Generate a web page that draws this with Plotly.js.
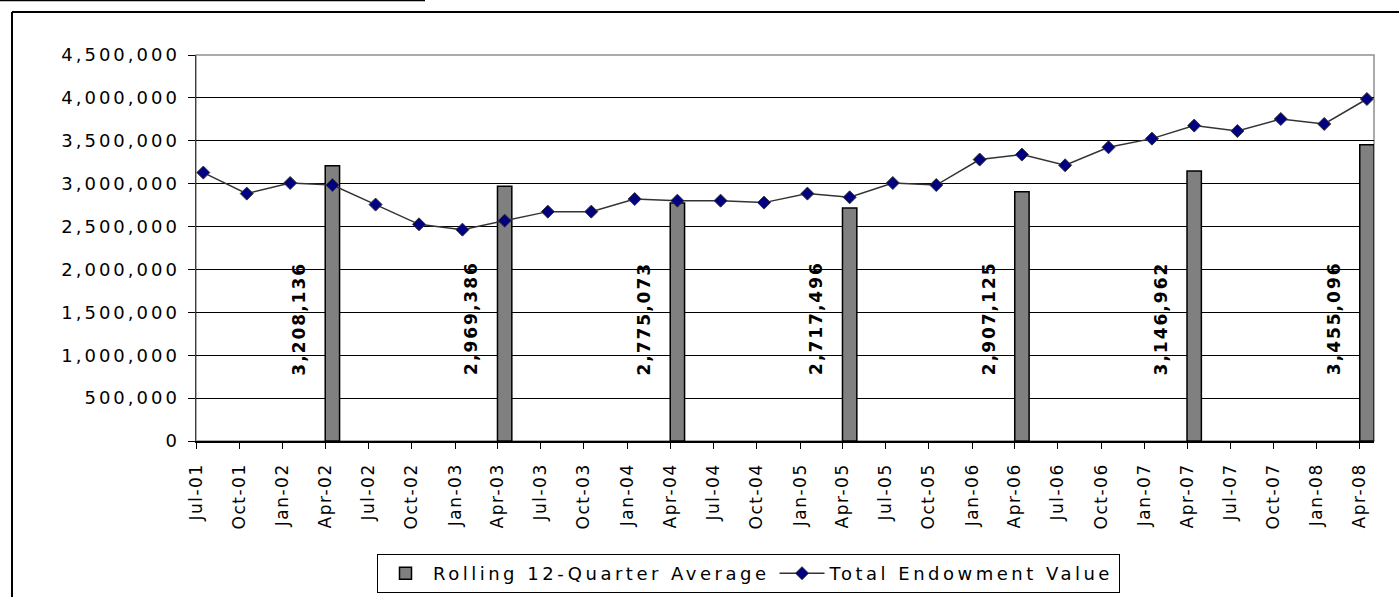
<!DOCTYPE html>
<html>
<head>
<meta charset="utf-8">
<script src="https://cdn.plot.ly/plotly-3.0.1.min.js"></script>
<style>
  html, body { margin: 0; padding: 0; background: #fff; }
  #chart { width: 1399px; height: 597px; }
  .ytick text { letter-spacing: 3px; }
  .xtick text { letter-spacing: 1.5px; }
  .legendtext { letter-spacing: 3.5px; }
  .annotation-text { letter-spacing: 2px; }
</style>
</head>
<body>
<div id="chart"></div>
<script>
// Quarter dates (first day of the month) and their tick labels
var quarterDates = ['2001-07-01','2001-10-01','2002-01-01','2002-04-01','2002-07-01','2002-10-01',
  '2003-01-01','2003-04-01','2003-07-01','2003-10-01','2004-01-01','2004-04-01','2004-07-01',
  '2004-10-01','2005-01-01','2005-04-01','2005-07-01','2005-10-01','2006-01-01','2006-04-01',
  '2006-07-01','2006-10-01','2007-01-01','2007-04-01','2007-07-01','2007-10-01','2008-01-01','2008-04-01'];
var tickLabels = ['Jul-01','Oct-01','Jan-02','Apr-02','Jul-02','Oct-02','Jan-03','Apr-03','Jul-03',
  'Oct-03','Jan-04','Apr-04','Jul-04','Oct-04','Jan-05','Apr-05','Jul-05','Oct-05','Jan-06',
  'Apr-06','Jul-06','Oct-06','Jan-07','Apr-07','Jul-07','Oct-07','Jan-08','Apr-08'];

// Total Endowment Value
var endowmentValue = [3129000,2884000,3008000,2984000,2756000,2526000,2464000,2569000,2674000,
  2674000,2821000,2802000,2802000,2779000,2884000,2841000,3008000,2984000,3281000,3339000,
  3214000,3424000,3525000,3677000,3614000,3754000,3696000,3987000];

// Rolling 12-Quarter Average (April of each year)
var avgDates = ['2002-04-01','2003-04-01','2004-04-01','2005-04-01','2006-04-01','2007-04-01','2008-04-01'];
var avgValues = [3208136,2969386,2775073,2717496,2907125,3146962,3455096];

var FONT = 'DejaVu Sans, Verdana, sans-serif';
var MONTH_MS = 30.4 * 24 * 3600 * 1000;

var barTrace = {
  type: 'bar',
  name: 'Rolling 12-Quarter Average',
  x: avgDates,
  y: avgValues,
  xperiod: 'M1',
  xperiodalignment: 'middle',
  width: MONTH_MS,
  marker: { color: '#808080', line: { color: '#000000', width: 1.5 } },
  hoverinfo: 'x+y'
};

var lineTrace = {
  type: 'scatter',
  mode: 'lines+markers',
  name: 'Total Endowment Value',
  x: quarterDates,
  y: endowmentValue,
  xperiod: 'M1',
  xperiodalignment: 'middle',
  line: { color: '#333333', width: 1.5 },
  marker: { symbol: 'diamond', size: 10, color: '#000080', line: { color: '#333333', width: 1 } }
};

function fmt(v) { return v.toString().replace(/\B(?=(\d{3})+(?!\d))/g, ','); }

var annotations = avgDates.map(function (d, i) {
  return {
    x: d, xref: 'x',
    y: 0.165, yref: 'paper',
    xanchor: 'center', yanchor: 'bottom',
    xshift: -26,
    textangle: -90,
    text: fmt(avgValues[i]),
    showarrow: false,
    font: { family: FONT, size: 17, color: '#000', weight: 'bold' }
  };
});

// plot-area pixel geometry helpers for frame decorations
var L = 196, R = 25, T = 55, B = 156, W = 1399, H = 597;
var pw = W - L - R, ph = H - T - B;
function px(x) { return (x - L) / pw; }
function py(y) { return (H - B - y) / ph; }

var shapes = [
  // grey plot-area border
  { type: 'rect', xref: 'paper', yref: 'paper', x0: 0, x1: 1, y0: 0, y1: 1,
    line: { color: '#909090', width: 1.5 }, layer: 'below' },
  // outer chart frame (left and top edges)
  { type: 'line', xref: 'paper', yref: 'paper', x0: px(12), x1: px(12), y0: py(600), y1: py(12),
    line: { color: '#000', width: 2 } },
  { type: 'line', xref: 'paper', yref: 'paper', x0: px(12), x1: px(1402), y0: py(12), y1: py(12),
    line: { color: '#000', width: 2 } },
  // underline of the cut-off heading
  { type: 'line', xref: 'paper', yref: 'paper', x0: px(0), x1: px(425), y0: py(0.5), y1: py(0.5),
    line: { color: '#000', width: 1.5 } }
];

var layout = {
  width: W, height: H,
  margin: { l: L, r: R, t: T, b: B, pad: 0, autoexpand: false },
  paper_bgcolor: '#fff', plot_bgcolor: '#fff',
  font: { family: FONT, size: 17, color: '#000' },
  showlegend: true,
  legend: {
    orientation: 'h',
    x: px(377), xanchor: 'left',
    y: py(554), yanchor: 'top',
    bgcolor: '#fff', bordercolor: '#000', borderwidth: 1,
    itemwidth: 45,
    font: { family: FONT, size: 18, color: '#000' },
    traceorder: 'normal'
  },
  xaxis: {
    type: 'date',
    range: ['2001-07-01', '2008-05-01'],
    tickvals: quarterDates,
    ticktext: tickLabels,
    tickangle: -90,
    ticks: 'outside', ticklen: 6, tickcolor: '#000', tickwidth: 1,
    ticklabelstandoff: 8,
    showline: true, linecolor: '#000', linewidth: 1.5,
    showgrid: false, zeroline: false,
    tickfont: { family: FONT, size: 17, color: '#000' }
  },
  yaxis: {
    range: [0, 4500000],
    dtick: 500000, tick0: 0,
    tickformat: ',d',
    ticks: 'outside', ticklen: 7, tickcolor: '#000', tickwidth: 1,
    ticklabelstandoff: 4,
    showline: true, linecolor: '#404040', linewidth: 1.5,
    showgrid: true, gridcolor: '#000', gridwidth: 1,
    zeroline: false,
    tickfont: { family: FONT, size: 18, color: '#000' }
  },
  bargap: 0,
  annotations: annotations,
  shapes: shapes
};

Plotly.newPlot('chart', [barTrace, lineTrace], layout, { displayModeBar: false, staticPlot: true });
</script>
</body>
</html>
